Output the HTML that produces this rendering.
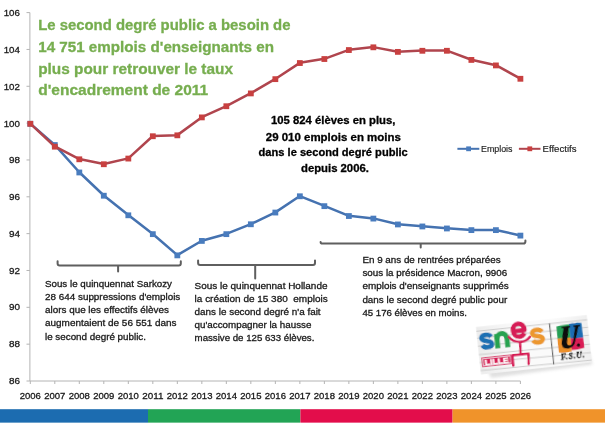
<!DOCTYPE html>
<html><head><meta charset="utf-8"><title>chart</title>
<style>html,body{margin:0;padding:0;background:#fff}body{width:605px;height:423px;overflow:hidden}</style></head>
<body>
<svg width="605" height="423" viewBox="0 0 605 423" style="display:block;font-family:'Liberation Sans',sans-serif">
<rect width="605" height="423" fill="#fff"/>
<defs><filter id="gb" filterUnits="userSpaceOnUse" x="-20" y="-20" width="645" height="463"><feGaussianBlur stdDeviation="0.38"/></filter></defs>
<g filter="url(#gb)">
<rect x="-20" y="-20" width="645" height="463" fill="#fff"/>
<rect x="-20" y="409.2" width="168" height="30" fill="#1a6cb0"/>
<rect x="148" y="409.2" width="152.39999999999998" height="30" fill="#22a455"/>
<rect x="300.4" y="409.2" width="152.20000000000005" height="30" fill="#e30d4b"/>
<rect x="452.6" y="409.2" width="172.39999999999998" height="30" fill="#f0932b"/>
<g stroke="#b4b4b4" stroke-width="1" fill="none">
<path d="M29.9 12.6 V381.00000000000006 H520.4"/>
<path d="M26.5 381.00 H29.9"/>
<path d="M26.5 344.16 H29.9"/>
<path d="M26.5 307.32 H29.9"/>
<path d="M26.5 270.48 H29.9"/>
<path d="M26.5 233.64 H29.9"/>
<path d="M26.5 196.80 H29.9"/>
<path d="M26.5 159.96 H29.9"/>
<path d="M26.5 123.12 H29.9"/>
<path d="M26.5 86.28 H29.9"/>
<path d="M26.5 49.44 H29.9"/>
<path d="M26.5 12.60 H29.9"/>
<path d="M30.30 381.00000000000006 v3"/>
<path d="M54.80 381.00000000000006 v3"/>
<path d="M79.31 381.00000000000006 v3"/>
<path d="M103.81 381.00000000000006 v3"/>
<path d="M128.32 381.00000000000006 v3"/>
<path d="M152.82 381.00000000000006 v3"/>
<path d="M177.33 381.00000000000006 v3"/>
<path d="M201.84 381.00000000000006 v3"/>
<path d="M226.34 381.00000000000006 v3"/>
<path d="M250.84 381.00000000000006 v3"/>
<path d="M275.35 381.00000000000006 v3"/>
<path d="M299.86 381.00000000000006 v3"/>
<path d="M324.36 381.00000000000006 v3"/>
<path d="M348.87 381.00000000000006 v3"/>
<path d="M373.37 381.00000000000006 v3"/>
<path d="M397.88 381.00000000000006 v3"/>
<path d="M422.38 381.00000000000006 v3"/>
<path d="M446.88 381.00000000000006 v3"/>
<path d="M471.39 381.00000000000006 v3"/>
<path d="M495.89 381.00000000000006 v3"/>
<path d="M520.40 381.00000000000006 v3"/>
</g>
<g fill="#1a1a1a" stroke="#1a1a1a" stroke-width="0.3" font-size="9.5" text-anchor="middle">
<text x="30.30" y="398.5" textLength="21.2" lengthAdjust="spacingAndGlyphs">2006</text>
<text x="54.80" y="398.5" textLength="21.2" lengthAdjust="spacingAndGlyphs">2007</text>
<text x="79.31" y="398.5" textLength="21.2" lengthAdjust="spacingAndGlyphs">2008</text>
<text x="103.81" y="398.5" textLength="21.2" lengthAdjust="spacingAndGlyphs">2009</text>
<text x="128.32" y="398.5" textLength="21.2" lengthAdjust="spacingAndGlyphs">2010</text>
<text x="152.82" y="398.5" textLength="21.2" lengthAdjust="spacingAndGlyphs">2011</text>
<text x="177.33" y="398.5" textLength="21.2" lengthAdjust="spacingAndGlyphs">2012</text>
<text x="201.84" y="398.5" textLength="21.2" lengthAdjust="spacingAndGlyphs">2013</text>
<text x="226.34" y="398.5" textLength="21.2" lengthAdjust="spacingAndGlyphs">2014</text>
<text x="250.84" y="398.5" textLength="21.2" lengthAdjust="spacingAndGlyphs">2015</text>
<text x="275.35" y="398.5" textLength="21.2" lengthAdjust="spacingAndGlyphs">2016</text>
<text x="299.86" y="398.5" textLength="21.2" lengthAdjust="spacingAndGlyphs">2017</text>
<text x="324.36" y="398.5" textLength="21.2" lengthAdjust="spacingAndGlyphs">2018</text>
<text x="348.87" y="398.5" textLength="21.2" lengthAdjust="spacingAndGlyphs">2019</text>
<text x="373.37" y="398.5" textLength="21.2" lengthAdjust="spacingAndGlyphs">2020</text>
<text x="397.88" y="398.5" textLength="21.2" lengthAdjust="spacingAndGlyphs">2021</text>
<text x="422.38" y="398.5" textLength="21.2" lengthAdjust="spacingAndGlyphs">2022</text>
<text x="446.88" y="398.5" textLength="21.2" lengthAdjust="spacingAndGlyphs">2023</text>
<text x="471.39" y="398.5" textLength="21.2" lengthAdjust="spacingAndGlyphs">2024</text>
<text x="495.89" y="398.5" textLength="21.2" lengthAdjust="spacingAndGlyphs">2025</text>
<text x="520.40" y="398.5" textLength="21.2" lengthAdjust="spacingAndGlyphs">2026</text>
</g>
<g fill="#1a1a1a" stroke="#1a1a1a" stroke-width="0.3" font-size="9.3" text-anchor="end">
 <text x="19.9" y="383.76" textLength="11" lengthAdjust="spacingAndGlyphs">86</text>
 <text x="19.9" y="347.02" textLength="11" lengthAdjust="spacingAndGlyphs">88</text>
 <text x="19.9" y="310.28" textLength="11" lengthAdjust="spacingAndGlyphs">90</text>
 <text x="19.9" y="273.54" textLength="11" lengthAdjust="spacingAndGlyphs">92</text>
 <text x="19.9" y="236.80" textLength="11" lengthAdjust="spacingAndGlyphs">94</text>
 <text x="19.9" y="200.06" textLength="11" lengthAdjust="spacingAndGlyphs">96</text>
 <text x="19.9" y="163.32" textLength="11" lengthAdjust="spacingAndGlyphs">98</text>
 <text x="19.9" y="126.58" textLength="16.2" lengthAdjust="spacingAndGlyphs">100</text>
 <text x="19.9" y="89.84" textLength="16.2" lengthAdjust="spacingAndGlyphs">102</text>
 <text x="19.9" y="53.10" textLength="16.2" lengthAdjust="spacingAndGlyphs">104</text>
 <text x="19.9" y="16.36" textLength="16.2" lengthAdjust="spacingAndGlyphs">106</text>
</g>
<polyline points="30.30,123.60 54.80,144.83 79.31,172.28 103.81,195.52 128.32,215.10 152.82,233.95 177.33,255.18 201.84,240.72 226.34,233.95 250.84,224.07 275.35,212.35 299.86,196.07 324.36,205.95 348.87,215.83 373.37,218.39 397.88,224.25 422.38,226.26 446.88,228.28 471.39,229.92 495.89,229.92 520.40,235.41" fill="none" stroke="#4472b0" stroke-width="2.5" stroke-linejoin="round" stroke-linecap="round"/>
<rect x="27.40" y="120.90" width="5.8" height="5.8" fill="#4a7cbe"/>
<rect x="51.91" y="142.13" width="5.8" height="5.8" fill="#4a7cbe"/>
<rect x="76.41" y="169.58" width="5.8" height="5.8" fill="#4a7cbe"/>
<rect x="100.91" y="192.82" width="5.8" height="5.8" fill="#4a7cbe"/>
<rect x="125.42" y="212.40" width="5.8" height="5.8" fill="#4a7cbe"/>
<rect x="149.92" y="231.25" width="5.8" height="5.8" fill="#4a7cbe"/>
<rect x="174.43" y="252.48" width="5.8" height="5.8" fill="#4a7cbe"/>
<rect x="198.94" y="238.02" width="5.8" height="5.8" fill="#4a7cbe"/>
<rect x="223.44" y="231.25" width="5.8" height="5.8" fill="#4a7cbe"/>
<rect x="247.94" y="221.37" width="5.8" height="5.8" fill="#4a7cbe"/>
<rect x="272.45" y="209.65" width="5.8" height="5.8" fill="#4a7cbe"/>
<rect x="296.96" y="193.37" width="5.8" height="5.8" fill="#4a7cbe"/>
<rect x="321.46" y="203.25" width="5.8" height="5.8" fill="#4a7cbe"/>
<rect x="345.97" y="213.13" width="5.8" height="5.8" fill="#4a7cbe"/>
<rect x="370.47" y="215.69" width="5.8" height="5.8" fill="#4a7cbe"/>
<rect x="394.98" y="221.55" width="5.8" height="5.8" fill="#4a7cbe"/>
<rect x="419.48" y="223.56" width="5.8" height="5.8" fill="#4a7cbe"/>
<rect x="443.99" y="225.58" width="5.8" height="5.8" fill="#4a7cbe"/>
<rect x="468.49" y="227.22" width="5.8" height="5.8" fill="#4a7cbe"/>
<rect x="493.00" y="227.22" width="5.8" height="5.8" fill="#4a7cbe"/>
<rect x="517.50" y="232.71" width="5.8" height="5.8" fill="#4a7cbe"/>
<polyline points="30.30,123.60 54.80,146.47 79.31,159.10 103.81,164.04 128.32,158.37 152.82,136.04 177.33,135.13 201.84,117.20 226.34,106.03 250.84,93.22 275.35,78.95 299.86,62.84 324.36,58.82 348.87,49.85 373.37,47.11 397.88,51.68 422.38,50.58 446.88,50.58 471.39,59.73 495.89,65.22 520.40,78.58" fill="none" stroke="#b0444e" stroke-width="2.5" stroke-linejoin="round" stroke-linecap="round"/>
<rect x="27.40" y="120.90" width="5.8" height="5.8" fill="#c8403f"/>
<rect x="51.91" y="143.78" width="5.8" height="5.8" fill="#c8403f"/>
<rect x="76.41" y="156.40" width="5.8" height="5.8" fill="#c8403f"/>
<rect x="100.91" y="161.34" width="5.8" height="5.8" fill="#c8403f"/>
<rect x="125.42" y="155.67" width="5.8" height="5.8" fill="#c8403f"/>
<rect x="149.92" y="133.34" width="5.8" height="5.8" fill="#c8403f"/>
<rect x="174.43" y="132.43" width="5.8" height="5.8" fill="#c8403f"/>
<rect x="198.94" y="114.50" width="5.8" height="5.8" fill="#c8403f"/>
<rect x="223.44" y="103.33" width="5.8" height="5.8" fill="#c8403f"/>
<rect x="247.94" y="90.52" width="5.8" height="5.8" fill="#c8403f"/>
<rect x="272.45" y="76.25" width="5.8" height="5.8" fill="#c8403f"/>
<rect x="296.96" y="60.14" width="5.8" height="5.8" fill="#c8403f"/>
<rect x="321.46" y="56.12" width="5.8" height="5.8" fill="#c8403f"/>
<rect x="345.97" y="47.15" width="5.8" height="5.8" fill="#c8403f"/>
<rect x="370.47" y="44.41" width="5.8" height="5.8" fill="#c8403f"/>
<rect x="394.98" y="48.98" width="5.8" height="5.8" fill="#c8403f"/>
<rect x="419.48" y="47.88" width="5.8" height="5.8" fill="#c8403f"/>
<rect x="443.99" y="47.88" width="5.8" height="5.8" fill="#c8403f"/>
<rect x="468.49" y="57.03" width="5.8" height="5.8" fill="#c8403f"/>
<rect x="493.00" y="62.52" width="5.8" height="5.8" fill="#c8403f"/>
<rect x="517.50" y="75.88" width="5.8" height="5.8" fill="#c8403f"/>
<path d="M457.4 148.8 H479.3" stroke="#4472b0" stroke-width="2"/><rect x="466.2" y="146.4" width="4.8" height="4.8" fill="#4a7cbe"/>
<path d="M518.9 148.8 H540.5" stroke="#b0444e" stroke-width="2"/><rect x="527.4" y="146.4" width="4.8" height="4.8" fill="#c8403f"/>
<text x="481" y="151.9" font-size="8.8" fill="#1a1a1a" stroke="#1a1a1a" stroke-width="0.15" textLength="31.5" lengthAdjust="spacingAndGlyphs">Emplois</text>
<text x="542.5" y="151.9" font-size="8.8" fill="#1a1a1a" stroke="#1a1a1a" stroke-width="0.15" textLength="34" lengthAdjust="spacingAndGlyphs">Effectifs</text>
<g fill="#77ae50" stroke="#77ae50" stroke-width="0.3" font-weight="bold" font-size="14.3">
<text x="38.2" y="30.1" textLength="252.3" lengthAdjust="spacingAndGlyphs">Le second degré public a besoin de</text>
<text x="38.2" y="51.5" textLength="235.8" lengthAdjust="spacingAndGlyphs">14 751 emplois d'enseignants en</text>
<text x="38.2" y="73.6" textLength="194.8" lengthAdjust="spacingAndGlyphs">plus pour retrouver le taux</text>
<text x="38.2" y="94.5" textLength="170.0" lengthAdjust="spacingAndGlyphs">d'encadrement de 2011</text>
</g>
<g fill="#000" stroke="#000" stroke-width="0.3" font-weight="bold" font-size="10.8">
<text x="271" y="124.1" textLength="124.4" lengthAdjust="spacingAndGlyphs">105 824 élèves en plus,</text>
<text x="265.75" y="140.5" textLength="135.1" lengthAdjust="spacingAndGlyphs">29 010 emplois en moins</text>
<text x="258.6" y="156.1" textLength="149.2" lengthAdjust="spacingAndGlyphs">dans le second degré public</text>
<text x="301" y="172.2" textLength="67.9" lengthAdjust="spacingAndGlyphs">depuis 2006.</text>
</g>
<g fill="#1a1a1a" stroke="#1a1a1a" stroke-width="0.3" font-size="9.4">
<text x="45.0" y="286.9" textLength="127.0" lengthAdjust="spacingAndGlyphs">Sous le quinquennat Sarkozy</text>
<text x="45.0" y="300.0" textLength="135.3" lengthAdjust="spacingAndGlyphs">28 644 suppressions d'emplois</text>
<text x="45.0" y="313.2" textLength="123.9" lengthAdjust="spacingAndGlyphs">alors que les effectifs élèves</text>
<text x="45.0" y="326.4" textLength="131.6" lengthAdjust="spacingAndGlyphs">augmentaient de 56 551 dans</text>
<text x="45.0" y="339.5" textLength="101.0" lengthAdjust="spacingAndGlyphs">le second degré public.</text>
</g>
<g fill="#1a1a1a" stroke="#1a1a1a" stroke-width="0.3" font-size="9.4">
<text x="194.6" y="288.6" textLength="132.9" lengthAdjust="spacingAndGlyphs">Sous le quinquennat Hollande</text>
<text x="194.6" y="301.7" textLength="133.1" lengthAdjust="spacingAndGlyphs">la création de 15 380  emplois</text>
<text x="194.6" y="314.9" textLength="126.0" lengthAdjust="spacingAndGlyphs">dans le second degré n'a fait</text>
<text x="194.6" y="328.0" textLength="116.8" lengthAdjust="spacingAndGlyphs">qu'accompagner la hausse</text>
<text x="194.6" y="341.1" textLength="119.8" lengthAdjust="spacingAndGlyphs">massive de 125 633 élèves.</text>
</g>
<g fill="#1a1a1a" stroke="#1a1a1a" stroke-width="0.3" font-size="9.4">
<text x="362.4" y="262.9" textLength="138.2" lengthAdjust="spacingAndGlyphs">En 9 ans de rentrées préparées</text>
<text x="362.4" y="276.1" textLength="144.9" lengthAdjust="spacingAndGlyphs">sous la présidence Macron, 9906</text>
<text x="362.4" y="289.4" textLength="146.4" lengthAdjust="spacingAndGlyphs">emplois d'enseignants supprimés</text>
<text x="362.4" y="302.6" textLength="144.9" lengthAdjust="spacingAndGlyphs">dans le second degré public pour</text>
<text x="362.4" y="315.8" textLength="104.6" lengthAdjust="spacingAndGlyphs">45 176 élèves en moins.</text>
</g>
<g stroke="#5e5e5e" stroke-width="2" fill="none" stroke-linecap="round" stroke-linejoin="round">
<path d="M57.6 261.3 V263.4 Q57.6 265.4 59.6 265.4 H178.8 Q180.8 265.4 180.8 263.4 V261.3 M118.1 265.4 V271.4"/>
<path d="M198.1 260.4 V262.9 Q198.1 264.9 200.1 264.9 H313 Q315 264.9 315 262.9 V260.4 M255.2 264.9 V278.4"/>
<path d="M320.6 241.9 Q320.6 243.6 322.6 243.6 H523.4 Q525.4 243.6 525.4 241.5 V240.6 M420.7 243.6 V247.4"/>
</g>
<rect x="-10" y="422.2" width="625" height="12" fill="#fff" opacity="0.45"/>
</g>
<defs>
<filter id="sh" x="-20%" y="-40%" width="140%" height="190%"><feGaussianBlur stdDeviation="1.8"/></filter>
<filter id="soft" x="-5%" y="-5%" width="110%" height="110%"><feGaussianBlur stdDeviation="0.4"/></filter>
<clipPath id="pc"><rect x="-55.7" y="-23.8" width="111.4" height="47.7"/></clipPath>
<linearGradient id="pg" x1="0" x2="1" y1="0" y2="0"><stop offset="0" stop-color="#ececec"/><stop offset="0.35" stop-color="#fafafa"/><stop offset="0.7" stop-color="#fafafa"/><stop offset="1" stop-color="#efefef"/></linearGradient>
</defs>
<g transform="translate(533.9 344.7) rotate(-6.2)">
<path d="M-50 17 L54 14 L56 26 L-46 28.5 Z" fill="#a0a0a0" opacity="0.32" filter="url(#sh)"/>
<g filter="url(#soft)">
<rect x="-55.7" y="-23.8" width="111.4" height="47.7" fill="url(#pg)"/>
<g clip-path="url(#pc)" stroke="#cbcbcb" stroke-width="1" fill="none">
<path d="M-56 -19.5 L56 -19"/><path d="M-56 -12.5 L56 -11.5"/><path d="M-56 -4.5 L56 -3.5"/><path d="M-56 4 L56 5.5"/><path d="M-56 12 L56 14"/><path d="M-56 20 L56 21.5"/>
</g>
<g fill="none" stroke-linecap="butt" stroke-linejoin="round">
<path d="M-41.70 -12.50 C-42.78 -14.38 -44.34 -15.00 -46.50 -15.00 C-49.83 -15.00 -51.40 -13.88 -51.40 -11.88 C-51.40 -9.62 -48.66 -9.25 -46.50 -8.75 C-44.34 -8.25 -41.60 -7.88 -41.60 -5.62 C-41.60 -3.62 -43.17 -2.50 -46.50 -2.50 C-48.66 -2.50 -50.22 -3.12 -51.30 -5.00" stroke="#1b6fb3" stroke-width="4.6"/>
<path d="M-36.1 -14.8 V-0.3 M-36.1 -8.4 C-36.1 -12.6 -34 -14.8 -31.1 -14.8 C-28.2 -14.8 -26.1 -12.6 -26.1 -8.4 V-0.3" stroke="#27a24f" stroke-width="5"/>
<path d="M-19 -15.6 H-7.8 C-7.8 -20 -9.9 -22.6 -13.5 -22.6 C-17.1 -22.6 -19.3 -20 -19.3 -16.1 C-19.3 -12.2 -17.1 -9.6 -13.5 -9.6 C-11.2 -9.6 -9.4 -10.6 -8.1 -12.5" stroke="#d61c57" stroke-width="4.5"/>
<path d="M9.40 -11.98 C8.30 -13.87 6.70 -14.50 4.50 -14.50 C1.10 -14.50 -0.50 -13.37 -0.50 -11.35 C-0.50 -9.08 2.30 -8.70 4.50 -8.20 C6.70 -7.70 9.50 -7.32 9.50 -5.05 C9.50 -3.03 7.90 -1.90 4.50 -1.90 C2.30 -1.90 0.70 -2.53 -0.40 -4.42" stroke="#ec972d" stroke-width="4.6"/>
</g>
<g stroke="#d61c57" fill="none" stroke-linecap="round" stroke-linejoin="round">
<path d="M-24.2 -10.6 A13.5 13.5 0 0 0 -3.2 -8.2" stroke-width="2.4"/>
<path d="M-13.5 -3.6 L-14.2 8.3 M-22.7 18.4 L-22.6 8.3 L-6.4 8.3 L-7.2 18.5" stroke-width="2.4"/>
</g>
<rect x="-53.3" y="7.7" width="29.2" height="8.6" fill="none" stroke="#d61c57" stroke-width="0.9"/>
<rect x="-52.1" y="8.9" width="26.8" height="6.2" fill="#d61c57"/>
<text x="-50.7" y="14.7" font-family="'Liberation Sans',sans-serif" font-weight="bold" font-size="7" fill="#fff" stroke="#fff" stroke-width="0.3" textLength="24" lengthAdjust="spacingAndGlyphs">LILLE</text>
<path d="M17.7 -19.5 L17.6 21.8" stroke="#5e5e5e" stroke-width="1.1"/>
<path d="M24.2 -15.6 Q30 -17 37.4 -16.4 L37.4 -3 L24.2 -3.2 Z" fill="#259e55"/>
<path d="M37 -16.8 Q40 -17.8 43 -16.9 Q46 -17.6 49.6 -16.6 L49.8 -1.4 L37.2 -2 Z" fill="#1c6db3"/>
<path d="M23.9 -3.4 L37.2 -3.2 L36.8 10.8 Q30 11.8 24 10.6 Z" fill="#ec902b"/>
<path d="M37.2 -2.2 L49.8 -1.6 L49.9 8.6 Q44 10 37 9.4 Z" fill="#da1d55"/>
<g fill="#0c0c0c">
<path d="M29.4 -14.8 L38.2 -14.8 L38 -13.5 L36.5 -13.2 L33.4 0.4 Q32.5 4.3 35.2 4.5 Q38.4 4.5 39.5 0.4 L42.8 -13.2 L41.1 -13.5 L41.3 -14.8 L48 -14.8 L47.8 -13.5 L46.2 -13.2 L41.6 0.8 Q39.8 7.4 33.6 7.4 Q26.4 7 27.9 0.4 L31.2 -13.2 L29.2 -13.5 Z"/>
<circle cx="44.3" cy="5.2" r="1.6"/>
<text x="25.6" y="18.2" font-family="'Liberation Serif',serif" font-weight="bold" font-style="italic" font-size="7.8" stroke="#0c0c0c" stroke-width="0.35" textLength="23.6" lengthAdjust="spacing">F.S.U.</text>
</g>
</g>
</g>

</svg>
</body></html>
